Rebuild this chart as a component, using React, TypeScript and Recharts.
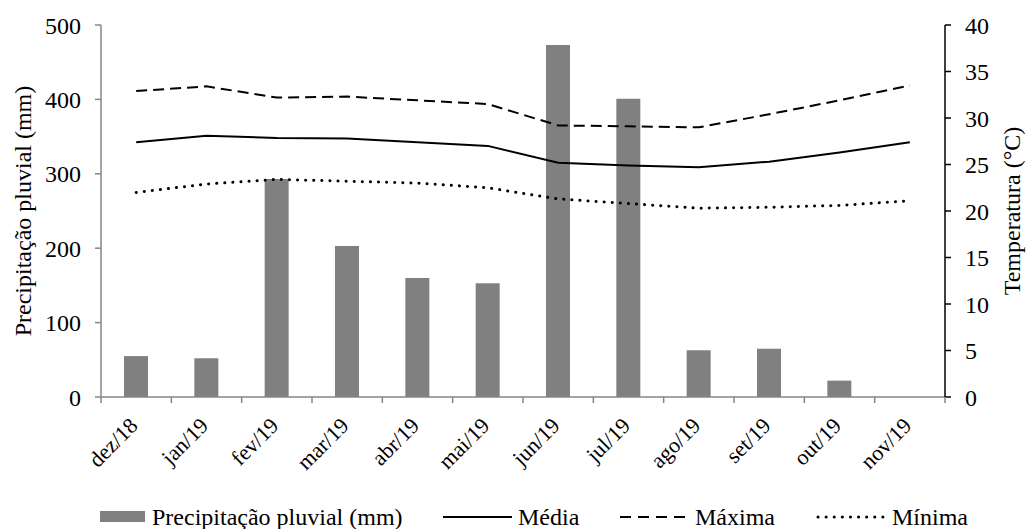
import React from 'react';
import {
  ComposedChart, Bar, Line, XAxis, YAxis, Legend,
} from 'recharts';

const months = ['dez/18', 'jan/19', 'fev/19', 'mar/19', 'abr/19', 'mai/19', 'jun/19', 'jul/19', 'ago/19', 'set/19', 'out/19', 'nov/19'];
const precipitacao = [55, 52, 293, 203, 160, 153, 473, 401, 63, 65, 22, 0];
const media = [27.4, 28.1, 27.85, 27.8, 27.4, 27.0, 25.2, 24.9, 24.7, 25.3, 26.3, 27.4];
const maxima = [32.9, 33.4, 32.2, 32.3, 31.9, 31.5, 29.2, 29.1, 29.0, 30.4, 31.9, 33.5];
const minima = [22.0, 22.9, 23.4, 23.2, 23.0, 22.5, 21.3, 20.8, 20.3, 20.4, 20.6, 21.1];
const precTicks = [0, 100, 200, 300, 400, 500];
const tempTicks = [0, 5, 10, 15, 20, 25, 30, 35, 40];

const data = months.map((m, i) => ({
  mes: m,
  prec: precipitacao[i],
  media: media[i],
  maxima: maxima[i],
  minima: minima[i],
}));

const FONT = '"Liberation Serif", "Times New Roman", serif';
const W = 1029;
const H = 529;
const PLOT_LEFT = 101;
const PLOT_RIGHT = 945;
const BAND = (PLOT_RIGHT - PLOT_LEFT) / months.length;

// month label rotated 45°, plus the tick mark on the category boundary (Excel style)
const MonthTick = (props: any) => {
  const { x, y, payload, index } = props;
  const left = x - BAND / 2;
  const right = x + BAND / 2;
  return (
    <g>
      <line x1={left} y1={y} x2={left} y2={y + 6} stroke="#868686" strokeWidth={1.5} />
      {index === months.length - 1 && (
        <line x1={right} y1={y} x2={right} y2={y + 6} stroke="#868686" strokeWidth={1.5} />
      )}
      <text
        x={x + 3}
        y={y + 30}
        textAnchor="end"
        transform={`rotate(-45, ${x + 3}, ${y + 30})`}
        fontFamily={FONT}
        fontSize={22}
        fill="#000"
      >
        {payload.value}
      </text>
    </g>
  );
};

const LeftTitle = (props: any) => {
  const { viewBox } = props;
  const cy = viewBox.y + viewBox.height / 2;
  return (
    <text x={23} y={cy} transform={`rotate(-90, 23, ${cy})`} textAnchor="middle" dominantBaseline="central"
      fontFamily={FONT} fontSize={24} fill="#000">
      Precipitação pluvial (mm)
    </text>
  );
};

const RightTitle = (props: any) => {
  const { viewBox } = props;
  const cy = viewBox.y + viewBox.height / 2;
  return (
    <text x={1012} y={cy} transform={`rotate(-90, 1012, ${cy})`} textAnchor="middle" dominantBaseline="central"
      fontFamily={FONT} fontSize={24} fill="#000">
      Temperatura (°C)
    </text>
  );
};

const LegendBox = () => {
  const cy = 28;
  const txt = { fontFamily: FONT, fontSize: 24, fill: '#000' };
  return (
    <svg width={W} height={40} style={{ display: 'block' }}>
      <rect x={100} y={cy - 6} width={45} height={11} fill="#808080" />
      <text x={152} y={cy} dominantBaseline="central" {...txt}>Precipitação pluvial (mm)</text>
      <line x1={443} y1={cy} x2={512} y2={cy} stroke="#000" strokeWidth={2} />
      <text x={518} y={cy} dominantBaseline="central" {...txt}>Média</text>
      <line x1={620} y1={cy} x2={686} y2={cy} stroke="#000" strokeWidth={2} strokeDasharray="11 7" />
      <text x={695} y={cy} dominantBaseline="central" {...txt}>Máxima</text>
      <line x1={818} y1={cy} x2={883} y2={cy} stroke="#000" strokeWidth={3} strokeDasharray="0.1 8" strokeLinecap="round" />
      <text x={892} y={cy} dominantBaseline="central" {...txt}>Mínima</text>
    </svg>
  );
};

export default function App() {
  return (
    <div style={{ position: 'absolute', left: 0, top: 0, width: W, height: H, background: '#fff' }}>
      <ComposedChart width={W} height={H} data={data} margin={{ top: 25, right: 0, bottom: 0, left: 0 }}>
        <XAxis
          dataKey="mes"
          height={92}
          tick={<MonthTick />}
          tickLine={false}
          tickSize={0}
          tickMargin={0}
          axisLine={{ stroke: '#868686', strokeWidth: 1.5 }}
          interval={0}
        />
        <YAxis
          yAxisId="left"
          width={PLOT_LEFT}
          domain={[0, 500]}
          ticks={precTicks}
          tickSize={6}
          tickMargin={14}
          tick={{ fontFamily: FONT, fontSize: 24, fill: '#000' }}
          axisLine={{ stroke: '#868686', strokeWidth: 1.5 }}
          tickLine={{ stroke: '#868686', strokeWidth: 1.5 }}
          label={<LeftTitle />}
        />
        <YAxis
          yAxisId="right"
          orientation="right"
          width={W - PLOT_RIGHT}
          domain={[0, 40]}
          ticks={tempTicks}
          tickSize={6}
          tickMargin={14}
          tick={{ fontFamily: FONT, fontSize: 24, fill: '#000', textAnchor: 'start' }}
          axisLine={{ stroke: '#000', strokeWidth: 1.5 }}
          tickLine={{ stroke: '#000', strokeWidth: 1.5 }}
          label={<RightTitle />}
        />
        <Legend
          verticalAlign="bottom"
          content={<LegendBox />}
          wrapperStyle={{ left: 0, width: W, height: 40 }}
        />
        <Bar yAxisId="left" dataKey="prec" fill="#808080" barSize={24} isAnimationActive={false} />
        <Line yAxisId="right" dataKey="media" stroke="#000" strokeWidth={2} dot={false} isAnimationActive={false} />
        <Line yAxisId="right" dataKey="maxima" stroke="#000" strokeWidth={2} strokeDasharray="11 6" dot={false} isAnimationActive={false} />
        <Line yAxisId="right" dataKey="minima" stroke="#000" strokeWidth={3} strokeDasharray="0.1 8" strokeLinecap="round" dot={false} isAnimationActive={false} />
      </ComposedChart>
    </div>
  );
}
